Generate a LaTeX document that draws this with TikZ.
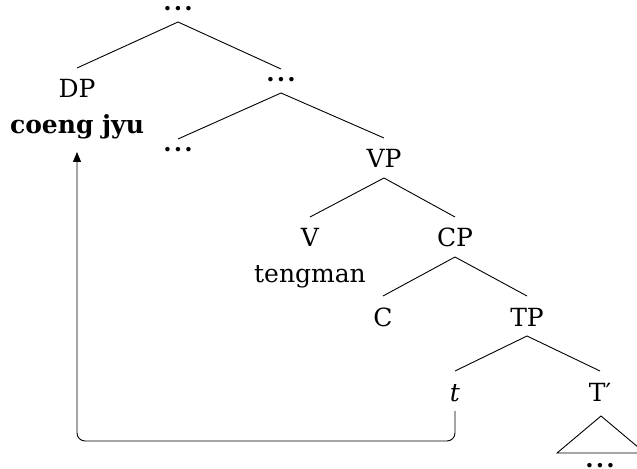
\documentclass[tikz,border=0pt]{standalone}
\usepackage{fontspec}
\setmainfont{DejaVu Serif}
\usetikzlibrary{arrows.meta}
\newcommand{\mydots}{\textbf{.\hspace{2.2bp}.\hspace{2.2bp}.}}
\begin{document}
\begin{tikzpicture}[x=1bp,y=1bp,
  lbl/.style={anchor=base, inner sep=0pt, text height=20bp, text depth=0pt, outer ysep=10bp, outer xsep=0pt, font=\fontsize{25bp}{29bp}\selectfont},
  dts/.style={anchor=base, inner sep=0pt, text height=2bp, text depth=0pt, outer ysep=11bp, outer xsep=0pt, font=\fontsize{24bp}{28bp}\selectfont},
  wrd/.style={anchor=base, inner sep=0pt, text height=12bp, text depth=0pt, outer ysep=18bp, outer xsep=0pt, font=\fontsize{25bp}{29bp}\selectfont\bfseries},
  br/.style={line width=0.9bp, black},
  mv/.style={line width=0.9bp, black, rounded corners=8bp, -{Triangle[length=10bp,width=8bp]}}]
\useasboundingbox (0,0) rectangle (637,-469);

\node[dts] (top) at (178,-11) {\mydots};
\node[lbl] (dp) at (77,-98) {DP};
\node[wrd] (cj) at (77,-134) {coeng jyu};
\node[dts] (d1) at (281,-82) {\mydots};
\node[dts] (d2) at (178,-152) {\mydots};
\node[lbl] (vp) at (384,-168) {VP};
\node[lbl] (v) at (310,-247) {V};
\node[lbl] (tm) at (310,-283) {tengman};
\node[lbl] (cp) at (455,-247) {CP};
\node[lbl] (c) at (383,-326) {C};
\node[lbl] (tp) at (527,-326) {TP};
\node[lbl] (t) at (455,-401) {\textit{t}};
\node[lbl] (tb) at (600,-401) {T′};
\node[dts] (d3) at (600,-467) {\mydots};

\draw[br] (top.south) -- (dp.north);
\draw[br] (top.south) -- (d1.north);
\draw[br] (d1.south) -- (d2.north);
\draw[br] (d1.south) -- (vp.north);
\draw[br] (vp.south) -- (v.north);
\draw[br] (vp.south) -- (cp.north);
\draw[br] (cp.south) -- (c.north);
\draw[br] (cp.south) -- (tp.north);
\draw[br] (tp.south) -- (t.north);
\draw[br] (tp.south) -- (tb.north);

\coordinate (apex) at (601,-416);
\coordinate (bl) at (557,-453);
\coordinate (brr) at (645,-453);
\draw[br] (apex) -- (bl) -- (brr) -- cycle;

\coordinate (low) at (77,-441);
\draw[mv] (t.south) |- (low) -- (cj.south);
\end{tikzpicture}
\end{document}
